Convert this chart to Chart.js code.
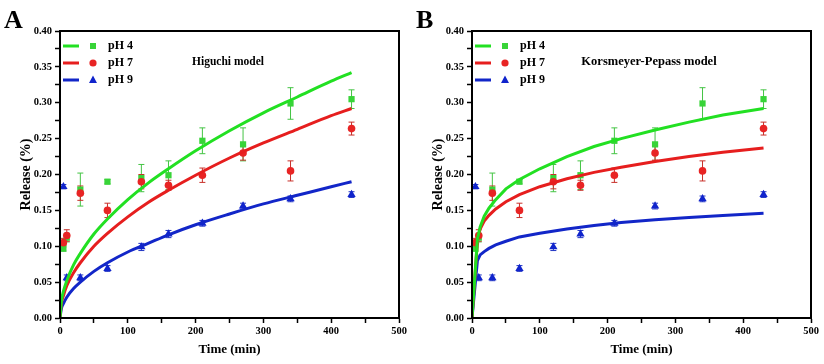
<!DOCTYPE html>
<html>
<head>
<meta charset="utf-8">
<script src="https://cdn.jsdelivr.net/npm/chart.js@4.4.1/dist/chart.umd.min.js"></script>
<style>
  body { margin: 0; background: #fff; }
  canvas { position: absolute; top: 0; }
</style>
</head>
<body>
<canvas id="chartA" width="412" height="364" style="left:0"></canvas>
<canvas id="chartB" width="412" height="364" style="left:412px"></canvas>
<script>
// measured release (same points in both panels)
const times = [5, 10, 30, 70, 120, 160, 210, 270, 340, 430];
const ph4 = [0.097, 0.112, 0.179, 0.190, 0.195, 0.199, 0.247, 0.242, 0.299, 0.305];
const err4 = [0.004, 0.006, 0.023, 0.003, 0.019, 0.020, 0.018, 0.023, 0.022, 0.013];
const ph7 = [0.105, 0.115, 0.174, 0.150, 0.190, 0.185, 0.199, 0.230, 0.205, 0.264];
const err7 = [0.006, 0.008, 0.010, 0.010, 0.010, 0.007, 0.010, 0.010, 0.014, 0.009];
const ph9 = [0.183, 0.056, 0.056, 0.069, 0.099, 0.117, 0.132, 0.156, 0.166, 0.172];
const err9 = [0.003, 0.004, 0.004, 0.004, 0.005, 0.005, 0.004, 0.004, 0.004, 0.004];

// fitted curves
const higuchiTimes = [0, 2, 5, 10, 20, 30, 50, 70, 100, 130, 160, 200, 250, 300, 350, 400, 430];
const higuchi4 = [0, 0.023, 0.037, 0.052, 0.074, 0.090, 0.117, 0.138, 0.165, 0.188, 0.208, 0.233, 0.261, 0.286, 0.308, 0.330, 0.342];
const higuchi7 = [0, 0.020, 0.031, 0.045, 0.063, 0.077, 0.100, 0.118, 0.141, 0.161, 0.178, 0.199, 0.223, 0.244, 0.263, 0.282, 0.292];
const higuchi9 = [0, 0.013, 0.020, 0.029, 0.041, 0.050, 0.065, 0.077, 0.092, 0.104, 0.116, 0.130, 0.145, 0.159, 0.171, 0.183, 0.190];

const kpTimes = [0, 8, 12, 18, 25, 35, 50, 70, 100, 140, 180, 220, 270, 320, 370, 430];
const kp4 = [0, 0.110, 0.127, 0.142, 0.153, 0.165, 0.180, 0.193, 0.208, 0.225, 0.239, 0.250, 0.262, 0.273, 0.283, 0.292];
const kp7 = [0, 0.108, 0.124, 0.135, 0.143, 0.152, 0.162, 0.172, 0.183, 0.194, 0.203, 0.210, 0.218, 0.225, 0.231, 0.237];
const kp9 = [0, 0.080, 0.088, 0.0925, 0.097, 0.102, 0.107, 0.113, 0.118, 0.124, 0.129, 0.133, 0.137, 0.140, 0.143, 0.146];

const seriesNames = ['pH 4', 'pH 7', 'pH 9'];
const yTicks = [0, 0.05, 0.10, 0.15, 0.20, 0.25, 0.30, 0.35, 0.40];
const xTicks = [0, 100, 200, 300, 400, 500];

const GREEN = '#22e022', RED = '#e61e1e', BLUE = '#1226c8';
const colors = [GREEN, RED, BLUE];
const markerColors = ['#38d438', '#e82424', '#1024cc'];
const errColors = ['#44c444', '#c8302a', '#2034c4'];
const shapes = ['rect', 'circle', 'triangle'];
const FONT = '"Liberation Serif", "Times New Roman", serif';

function pts(xs, ys) {
  return xs.map((x, i) => ({ x: x, y: ys[i] }));
}

function marker(ctx, shape, x, y, color) {
  ctx.fillStyle = color;
  ctx.beginPath();
  if (shape === 'rect') ctx.rect(x - 3, y - 3, 6, 6);
  else if (shape === 'circle') ctx.arc(x, y, 3.6, 0, Math.PI * 2);
  else { ctx.moveTo(x, y - 4.5); ctx.lineTo(x + 4, y + 3); ctx.lineTo(x - 4, y + 3); ctx.closePath(); }
  ctx.fill();
}

// error bars under the markers
const errorBars = {
  id: 'errorBars',
  beforeDatasetsDraw(chart) {
    const ctx = chart.ctx, xs = chart.scales.x, ys = chart.scales.y;
    chart.data.datasets.forEach(ds => {
      if (!ds.errors) return;
      ctx.save();
      ctx.strokeStyle = ds.errorColor;
      ctx.lineWidth = 1;
      ds.data.forEach((p, i) => {
        const px = xs.getPixelForValue(p.x);
        const top = ys.getPixelForValue(p.y + ds.errors[i]);
        const bot = ys.getPixelForValue(p.y - ds.errors[i]);
        ctx.beginPath();
        ctx.moveTo(px, top); ctx.lineTo(px, bot);
        ctx.moveTo(px - 3, top); ctx.lineTo(px + 3, top);
        ctx.moveTo(px - 3, bot); ctx.lineTo(px + 3, bot);
        ctx.stroke();
      });
      ctx.restore();
    });
  }
};

// frame, legend, model name and panel letter
const decor = {
  id: 'decor',
  afterDraw(chart, args, opts) {
    const ctx = chart.ctx, a = chart.chartArea;
    ctx.save();
    ctx.strokeStyle = '#000';
    ctx.lineWidth = 2;
    ctx.strokeRect(a.left, a.top, a.right - a.left, a.bottom - a.top);

    ctx.textBaseline = 'middle';
    ctx.textAlign = 'left';
    seriesNames.forEach((name, i) => {
      const y = 46 + i * 17;
      ctx.strokeStyle = colors[i];
      ctx.lineWidth = 3;
      ctx.beginPath();
      ctx.moveTo(63, y); ctx.lineTo(79, y);
      ctx.stroke();
      marker(ctx, shapes[i], 93, y, markerColors[i]);
      ctx.fillStyle = '#000';
      ctx.font = 'bold 12px ' + FONT;
      ctx.fillText(name, 108, y);
    });

    ctx.textAlign = 'center';
    ctx.font = 'bold ' + opts.modelSize + 'px ' + FONT;
    ctx.fillText(opts.model, opts.modelX, 62);

    ctx.textAlign = 'left';
    ctx.textBaseline = 'alphabetic';
    ctx.font = 'bold 26px ' + FONT;
    ctx.fillText(opts.letter, 4, 28);
    ctx.restore();
  }
};

function makeChart(id, fitTimes, fits, smooth, letter, model, modelX, modelSize) {
  const datasets = [];
  fits.forEach((f, i) => {
    datasets.push({
      data: pts(fitTimes, f),
      showLine: true,
      borderColor: colors[i],
      borderWidth: 3,
      pointRadius: 0,
      cubicInterpolationMode: smooth ? 'monotone' : 'default',
      tension: 0,
      order: 0
    });
  });
  [[ph4, err4], [ph7, err7], [ph9, err9]].forEach((s, i) => {
    datasets.push({
      data: pts(times, s[0]),
      errors: s[1],
      errorColor: errColors[i],
      showLine: false,
      pointStyle: shapes[i],
      pointRadius: i === 0 ? 4.4 : (i === 1 ? 3.8 : 4.8),
      backgroundColor: markerColors[i],
      borderColor: markerColors[i],
      borderWidth: 0,
      order: i === 0 ? 3 : 2
    });
  });

  const tickFont = { family: FONT, weight: 'bold', size: 10.5 };
  new Chart(document.getElementById(id), {
    type: 'scatter',
    data: { datasets: datasets },
    options: {
      responsive: false,
      animation: false,
      layout: { padding: { top: 31, right: 13, left: 0, bottom: 0 } },
      plugins: {
        legend: { display: false },
        tooltip: { enabled: false },
        decor: { letter: letter, model: model, modelX: modelX, modelSize: modelSize }
      },
      scales: {
        x: {
          type: 'linear', min: 0, max: 500,
          afterFit: s => { s.height = 46; },
          ticks: {
            stepSize: 50, color: '#000', font: tickFont, padding: 2, maxRotation: 0,
            autoSkip: false,
            callback: v => xTicks.includes(v) ? String(v) : ''
          },
          grid: { drawOnChartArea: false, tickLength: 5, tickWidth: 1.5, tickColor: '#000' },
          border: { color: '#000', width: 2 },
          title: { display: true, text: 'Time (min)', color: '#000',
                   font: { family: FONT, weight: 'bold', size: 13 }, padding: { top: 0, bottom: 7 } }
        },
        y: {
          min: 0, max: 0.4,
          afterFit: s => { s.width = 60; },
          ticks: {
            stepSize: 0.025, color: '#000', font: tickFont, padding: 3, autoSkip: false,
            callback: v => yTicks.some(t => Math.abs(t - v) < 1e-6) ? v.toFixed(2) : ''
          },
          grid: { drawOnChartArea: false, tickLength: 5, tickWidth: 1.5, tickColor: '#000' },
          border: { color: '#000', width: 2 },
          title: { display: true, text: 'Release (%)', color: '#000',
                   font: { family: FONT, weight: 'bold', size: 14 }, padding: { top: 18, bottom: 0 } }
        }
      }
    },
    plugins: [errorBars, decor]
  });
}

makeChart('chartA', higuchiTimes, [higuchi4, higuchi7, higuchi9], true, 'A', 'Higuchi model', 228, 11.5);
makeChart('chartB', kpTimes, [kp4, kp7, kp9], false, 'B', 'Korsmeyer-Pepass model', 237, 12.5);
</script>
</body>
</html>
